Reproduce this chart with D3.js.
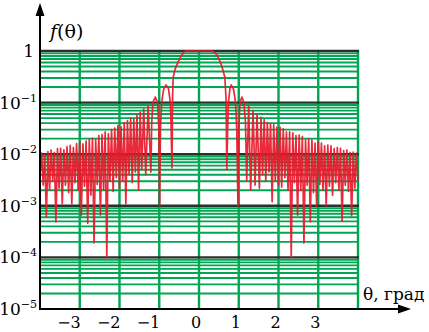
<!DOCTYPE html>
<html>
<head>
<meta charset="utf-8">
<script src="https://cdnjs.cloudflare.com/ajax/libs/d3/7.8.5/d3.min.js"></script>
<style>
body { margin: 0; background: #fff; }
svg { display: block; }
</style>
</head>
<body>
<div id="chart"></div>
<script>
// Far sidelobes, left side (alternating null / peak)
var leftTheta = [-4.00,-3.96,-3.92,-3.88,-3.84,-3.80,-3.76,-3.72,-3.68,-3.64,-3.60,-3.56,-3.52,-3.48,-3.44,-3.40,
	-3.36,-3.32,-3.28,-3.24,-3.20,-3.16,-3.12,-3.08,-3.04,-3.00,-2.96,-2.92,-2.88,-2.84,-2.80,-2.76,-2.72,-2.68,
	-2.64,-2.60,-2.56,-2.52,-2.48,-2.44,-2.40,-2.36,-2.32,-2.28,-2.24,-2.20,-2.16,-2.12,-2.08,-2.04,-2.00,-1.96,
	-1.92,-1.88,-1.84,-1.80,-1.76,-1.72,-1.68,-1.64,-1.60,-1.56,-1.52,-1.48,-1.44,-1.39,-1.34,-1.28,-1.21];
var leftLevel = [0.004,0.0105,0.0025,0.0098,0.0006,0.0112,0.002,0.012,0.003,0.0108,0.00049,0.0128,0.0022,0.013,
	0.0011,0.0122,0.0025,0.014,0.0018,0.0148,0.0011,0.0135,0.0028,0.016,0.002,0.017,0.00066,0.0158,0.0024,0.018,
	0.00046,0.0195,0.0016,0.0205,0.00019,0.019,0.0026,0.023,0.00066,0.024,0.002,0.027,0.0001,0.025,0.003,0.030,
	0.0019,0.032,0.0035,0.036,0.0022,0.034,0.003,0.041,0.0011,0.045,0.004,0.05,0.0028,0.048,0.0045,0.058,0.002,
	0.065,0.005,0.075,0.004,0.085,0.0045];

// Main lobe with the first two sidelobes on each side
var centerTheta = [-1.19,-1.16,-1.10,-1.04,-1.01,-0.99,-0.97,-0.94,-0.89,-0.83,-0.77,-0.72,-0.70,-0.68,-0.665,
	-0.65,-0.60,-0.53,-0.45,-0.38,-0.35,0.33,0.38,0.45,0.52,0.58,0.65,0.68,0.70,0.72,0.74,0.78,0.81,0.87,0.92,
	0.95,0.98,1.00,1.03,1.08,1.13,1.17,1.20];
var centerLevel = [0.04,0.1,0.128,0.1,0.03,0.001,0.03,0.1,0.18,0.22,0.19,0.1,0.03,0.0054,0.12,0.31,0.45,0.6,
	0.8,0.95,1,1,0.95,0.84,0.65,0.49,0.31,0.12,0.005,0.03,0.1,0.19,0.22,0.18,0.1,0.03,0.001,0.03,0.1,0.128,0.1,
	0.04,0.003];

// Far sidelobes, right side
var rightTheta = [1.25,1.30,1.36,1.41,1.46,1.52,1.56,1.60,1.64,1.68,1.72,1.76,1.80,1.84,1.88,1.92,1.96,2.00,
	2.04,2.08,2.12,2.16,2.20,2.24,2.28,2.32,2.36,2.40,2.44,2.48,2.52,2.56,2.60,2.64,2.68,2.72,2.76,2.80,2.84,
	2.88,2.92,2.96,3.00,3.04,3.08,3.12,3.16,3.20,3.24,3.28,3.32,3.36,3.40,3.44,3.48,3.52,3.56,3.60,3.64,3.68,
	3.72,3.76,3.80,3.84,3.88,3.92,3.96,4.00];
var rightLevel = [0.085,0.002,0.07,0.0025,0.06,0.0022,0.052,0.004,0.047,0.003,0.041,0.0045,0.039,0.0012,0.037,
	0.003,0.033,0.0025,0.033,0.0023,0.031,0.0035,0.027,0.002,0.027,0.0001,0.026,0.0028,0.023,0.00066,0.0235,
	0.002,0.022,0.00019,0.019,0.0025,0.02,0.00049,0.019,0.0018,0.0165,0.001,0.0172,0.0026,0.0165,0.002,0.0145,
	0.001,0.015,0.0024,0.0145,0.0016,0.0128,0.0028,0.0135,0.002,0.013,0.0005,0.0118,0.0025,0.012,0.0019,0.0108,
	0.00064,0.011,0.0022,0.0105,0.003];

// Tick labels
var xTickValues = [-3, -2, -1, 0, 1, 2, 3];
var xTickLabels = ["\u22123", "\u22122", "\u22121", "0", "1", "2", "3"];
var yTickValues = [1, 1e-1, 1e-2, 1e-3, 1e-4, 1e-5];
var yTickExps = ["", "\u22121", "\u22122", "\u22123", "\u22124", "\u22125"];

var width = 429;
var height = 332;

var green = "#00a651";
var dark = "#26332c";
var red = "#e8192c";
var font = "'DejaVu Serif', 'Liberation Serif', serif";

var x = d3.scaleLinear().domain([-4, 4]).range([40, 358]);
var y = d3.scaleLog().domain([1e-5, 1]).range([309, 51]);

var svg = d3.select("#chart").append("svg")
	.attr("width", width)
	.attr("height", height);

// green grid: minor log lines, then integer degree lines
var minor = y.ticks().filter(function(v) {
	return Math.abs(Math.log10(v) - Math.round(Math.log10(v))) > 1e-6;
});

var grid = svg.append("g");
grid.selectAll(".minor").data(minor).enter().append("line")
	.attr("class", "minor")
	.attr("x1", x(-4)).attr("x2", x(4))
	.attr("y1", function(d) { return y(d); })
	.attr("y2", function(d) { return y(d); })
	.style("stroke", green)
	.style("stroke-width", 1.9);

grid.selectAll(".vert").data(xTickValues.concat([4])).enter().append("line")
	.attr("class", "vert")
	.attr("x1", function(d) { return x(d); })
	.attr("x2", function(d) { return x(d); })
	.attr("y1", y(1) - 1).attr("y2", y(1e-5))
	.style("stroke", green)
	.style("stroke-width", 2.4);

grid.selectAll(".decade").data(yTickValues.slice(0, 5)).enter().append("line")
	.attr("class", "decade")
	.attr("x1", x(-4)).attr("x2", x(4) + 1)
	.attr("y1", function(d) { return y(d); })
	.attr("y2", function(d) { return y(d); })
	.style("stroke", dark)
	.style("stroke-width", 2.4);

// the pattern itself
var theta = leftTheta.concat(centerTheta, rightTheta);
var level = leftLevel.concat(centerLevel, rightLevel);
var pts = theta.map(function(t, i) { return [t, level[i]]; });

var line = d3.line()
	.x(function(d) { return x(d[0]); })
	.y(function(d) { return y(d[1]); });

svg.append("path")
	.datum(pts)
	.attr("d", line)
	.style("fill", "none")
	.style("stroke", red)
	.style("stroke-width", 1.7)
	.style("stroke-linejoin", "round")
	.style("opacity", 0.93);

// axes with arrows
svg.append("line")
	.attr("x1", x(-4)).attr("x2", x(-4))
	.attr("y1", y(1e-5) + 1).attr("y2", 14)
	.style("stroke", "#000").style("stroke-width", 2);
svg.append("path")
	.attr("d", "M" + x(-4) + ",3L" + (x(-4) - 4.5) + ",16L" + (x(-4) + 4.5) + ",16Z")
	.style("fill", "#000");

svg.append("line")
	.attr("x1", x(-4) - 1).attr("x2", 400)
	.attr("y1", y(1e-5)).attr("y2", y(1e-5))
	.style("stroke", "#000").style("stroke-width", 2);
svg.append("path")
	.attr("d", "M411," + y(1e-5) + "L398," + (y(1e-5) - 4.5) + "L398," + (y(1e-5) + 4.5) + "Z")
	.style("fill", "#000");

// y tick labels: 1, 10^-1 ... 10^-5
var ylab = svg.selectAll(".ylab").data(yTickValues).enter().append("text")
	.attr("class", "ylab")
	.attr("x", function(d, i) { return i == 0 ? 34 : 37; })
	.attr("y", function(d) { return y(d) + 6; })
	.attr("text-anchor", "end")
	.style("font-family", font)
	.style("font-size", "17px");

ylab.append("tspan").text(function(d, i) { return i == 0 ? "1" : "10"; });
ylab.append("tspan")
	.attr("dy", -7)
	.style("font-size", "11px")
	.text(function(d, i) { return yTickExps[i]; });

// x tick labels
svg.selectAll(".xlab").data(xTickValues).enter().append("text")
	.attr("class", "xlab")
	.attr("x", function(d) { return d < 0 ? x(d) + 1 : x(d) - 3; })
	.attr("y", 328)
	.attr("text-anchor", function(d) { return d < 0 ? "end" : "middle"; })
	.style("font-family", font)
	.style("font-size", "16px")
	.text(function(d, i) { return xTickLabels[i]; });

// axis titles
var ftitle = svg.append("text")
	.attr("x", 50).attr("y", 38)
	.style("font-family", font)
	.style("font-size", "19px");
ftitle.append("tspan").style("font-style", "italic").text("f");
ftitle.append("tspan").text("(\u03b8)");

svg.append("text")
	.attr("x", 363).attr("y", 300)
	.style("font-family", font)
	.style("font-size", "17px")
	.text("\u03b8, \u0433\u0440\u0430\u0434");
</script>
</body>
</html>
